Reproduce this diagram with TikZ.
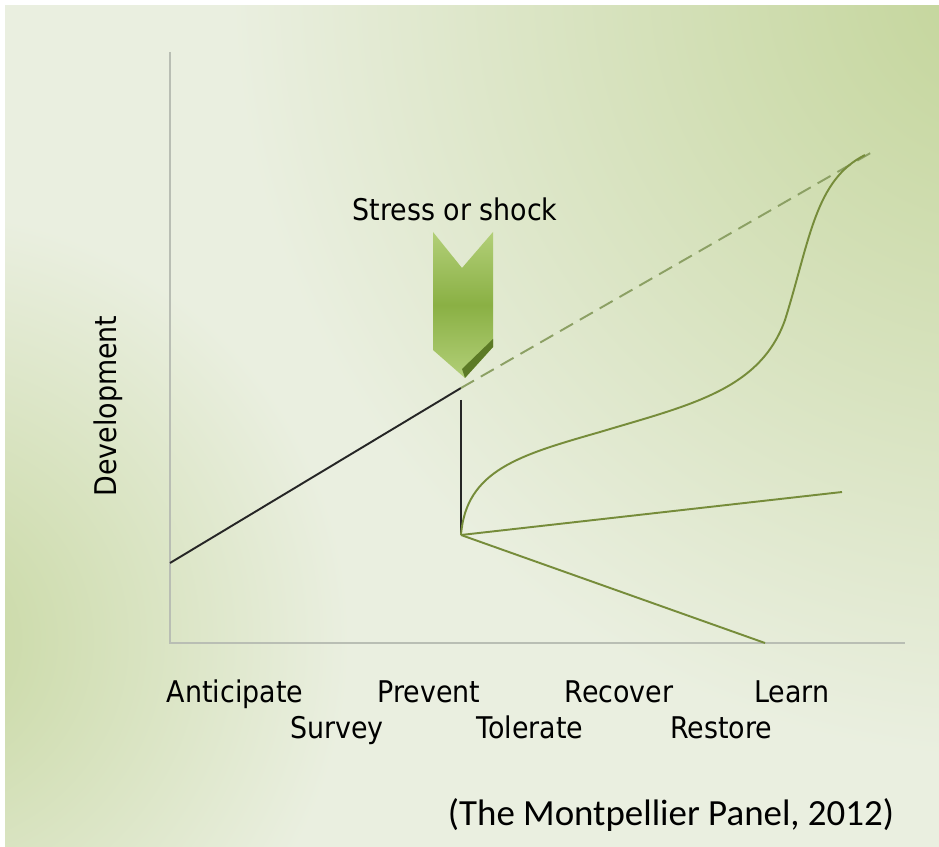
\documentclass[tikz,border=0pt]{standalone}
\usepackage{fontspec}
\setmainfont{Carlito}
\newfontfamily\axisfont{DejaVu Sans Condensed}
\usepackage{tikz}
\usetikzlibrary{arrows}
\usepackage{color}
\definecolor{bglight}{RGB}{234,239,224}
\definecolor{bggreen}{RGB}{194,212,152}
\definecolor{curvegreen}{RGB}{118,140,58}
\definecolor{dashgreen}{RGB}{140,160,100}
\definecolor{axisgray}{RGB}{185,190,180}
\definecolor{chevtop}{RGB}{178,207,120}
\definecolor{chevmid}{RGB}{138,176,68}
\definecolor{chevedge}{RGB}{92,122,38}

\begin{document}
\begin{tikzpicture}[x=0.02cm,y=-0.02cm,semithick]
		\tikzstyle{axis}=[draw=axisgray,line width=0.7pt]
		\tikzstyle{outcome}=[draw=curvegreen,line width=1.1pt]
		\tikzstyle{trend}=[draw=black!85,line width=1.1pt]
		\tikzstyle{phase}=[font=\axisfont\fontsize{17}{20}\selectfont,text=black,anchor=base,inner sep=0pt]
		
		\useasboundingbox (0,0) rectangle (939,847);
		
		% background
		\fill[white] (0,0) rectangle (939,847);
		\begin{scope}
		\clip (5,6) rectangle (939,847);
		\fill[bglight] (0,0) rectangle (939,847);
		\shade[inner color=bggreen,outer color=bglight] (1010,-20) circle (780);
		\shade[inner color=bggreen!90!bglight,outer color=bglight] (-80,640) circle (430);
		\end{scope}
		
		\coordinate (origin) at (170,643);
		\coordinate (ytop) at (170,52);
		\coordinate (xend) at (905,643);
		\coordinate (start) at (170,563);
		\coordinate (shock) at (461,388);
		\coordinate (trendend) at (874,151);
		\coordinate (droptop) at (461,400);
		\coordinate (drop) at (461,535);
		\coordinate (flat) at (842,492);
		\coordinate (decline) at (765,643);
		\coordinate (bend) at (600,432);
		\coordinate (rise) at (785,320);
		\coordinate (peak) at (865,155);
		
		% axes
		\draw[axis] (ytop) -- (origin) -- (xend);
		
		% stress arrow
		\shade[top color=chevtop,bottom color=chevtop,middle color=chevmid]
			(433,232) -- (462,268) -- (493,232) -- (493,347) -- (465,378) -- (433,350) -- cycle;
		\fill[chevedge] (493,339) -- (493,347) -- (465,378) -- (462,369) -- cycle;
		
		% trend and outcomes
		\draw[trend] (start) -- (shock);
		\draw[dashgreen,line width=1.1pt,dash pattern=on 8.5pt off 4.5pt] (shock) -- (trendend);
		\draw[trend] (droptop) -- (drop);
		\draw[outcome] (drop) -- (flat);
		\draw[outcome] (drop) -- (decline);
		\draw[outcome] (drop) .. controls (466,470) and (520,455) .. (bend)
			.. controls (690,405) and (760,390) .. (rise)
			.. controls (810,240) and (815,180) .. (peak);
		
		% labels
		\node[phase] (stress) at (455,221) {Stress or shock};
		\node[phase,anchor=center,rotate=90] (dev) at (108,406) {Development};
		\node[phase] (anticipate) at (235,702) {Anticipate};
		\node[phase] (prevent) at (429,702) {Prevent};
		\node[phase] (recover) at (619,702) {Recover};
		\node[phase] (learn) at (792,702) {Learn};
		\node[phase] (survey) at (337,738) {Survey};
		\node[phase] (tolerate) at (530,738) {Tolerate};
		\node[phase] (restore) at (721,738) {Restore};
		\node[font=\fontsize{21}{25}\selectfont,anchor=base,inner sep=0pt] (cite) at (671,825) {(The Montpellier Panel, 2012)};
		\end{tikzpicture}
\end{document}
